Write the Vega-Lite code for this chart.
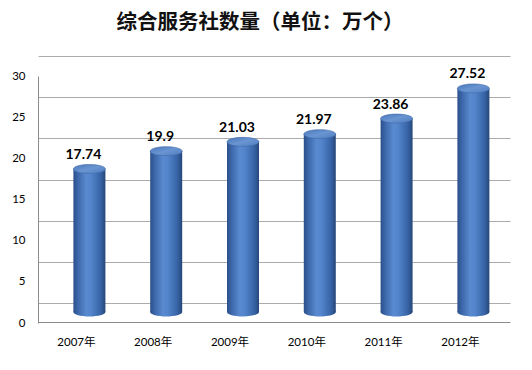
{
  "$schema": "https://vega.github.io/schema/vega-lite/v6.json",
  "width": 472,
  "height": 247,
  "autosize": {"type": "none"},
  "padding": {"left": 38, "top": 56, "right": 22, "bottom": 67},
  "background": "white",
  "config": {"view": {"stroke": null}},
  "title": {
    "text": "综合服务社数量（单位：万个）",
    "font": "Noto Sans CJK SC",
    "fontSize": 20.5,
    "fontWeight": "bold",
    "color": "#111111",
    "anchor": "middle",
    "frame": "group",
    "dx": -14,
    "offset": 23
  },
  "data": {
    "values": [
      {"year": "2007年", "value": 17.74},
      {"year": "2008年", "value": 19.9},
      {"year": "2009年", "value": 21.03},
      {"year": "2010年", "value": 21.97},
      {"year": "2011年", "value": 23.86},
      {"year": "2012年", "value": 27.52}
    ]
  },
  "encoding": {
    "x": {
      "field": "year",
      "type": "nominal",
      "sort": null,
      "scale": {"paddingInner": 0, "paddingOuter": 0.073, "align": 0},
      "axis": {
        "title": null,
        "offset": 19,
        "domainColor": "#8c8c8c",
        "ticks": false,
        "grid": false,
        "labelAngle": 0,
        "labelPadding": 14,
        "labelFont": "Lato, Noto Sans CJK SC",
        "labelFontSize": 11.5,
        "labelColor": "#000000"
      }
    }
  },
  "layer": [
    {
      "mark": {
        "type": "point",
        "shape": "M -1 0 A 1 0.28 0 1 0 1 0 A 1 0.28 0 1 0 -1 0 Z",
        "size": 1024,
        "filled": true,
        "opacity": 1,
        "xOffset": 13,
        "yOffset": 9,
        "fill": {"gradient": "linear", "x1": 0, "x2": 1, "y1": 0, "y2": 0,
          "stops": [
            {"offset": 0, "color": "#2b4f8a"},
            {"offset": 0.15, "color": "#3d68ab"},
            {"offset": 0.4, "color": "#5a8ad0"},
            {"offset": 0.55, "color": "#5385cc"},
            {"offset": 0.85, "color": "#3763a5"},
            {"offset": 1, "color": "#264779"}
          ]},
        "strokeWidth": 0
      },
      "encoding": {
        "y": {"datum": 0, "type": "quantitative", "scale": {"domain": [0, 30]},
          "axis": {"grid": true, "gridColor": "#ababab", "labels": false, "ticks": false, "domain": false, "title": null,
            "values": [0, 5, 10, 15, 20, 25, 30]}}
      }
    },
    {
      "mark": {
        "type": "bar",
        "width": 32,
        "xOffset": 13,
        "yOffset": 12,
        "y2Offset": 9,
        "fill": {"gradient": "linear", "x1": 0, "x2": 1, "y1": 0, "y2": 0,
          "stops": [
            {"offset": 0, "color": "#2b4f8a"},
            {"offset": 0.15, "color": "#3d68ab"},
            {"offset": 0.4, "color": "#5a8ad0"},
            {"offset": 0.55, "color": "#5385cc"},
            {"offset": 0.85, "color": "#3763a5"},
            {"offset": 1, "color": "#264779"}
          ]}
      },
      "encoding": {
        "y": {"field": "value", "type": "quantitative", "scale": {"domain": [0, 30]}, "axis": null},
        "y2": {"datum": 0}
      }
    },
    {
      "mark": {
        "type": "point",
        "shape": "M -1 0 A 1 0.28 0 1 0 1 0 A 1 0.28 0 1 0 -1 0 Z",
        "size": 1024,
        "filled": true,
        "opacity": 1,
        "xOffset": 13,
        "yOffset": 12,
        "fill": {"gradient": "linear", "x1": 0, "x2": 1, "y1": 0, "y2": 1,
          "stops": [
            {"offset": 0, "color": "#4a78bb"},
            {"offset": 0.5, "color": "#6a95d2"},
            {"offset": 1, "color": "#4e7cbe"}
          ]},
        "stroke": "#3f6aa8",
        "strokeWidth": 0.6
      },
      "encoding": {
        "y": {"field": "value", "type": "quantitative", "scale": {"domain": [0, 30]}, "axis": null}
      }
    },
    {
      "mark": {
        "type": "text",
        "font": "Lato",
        "fontSize": 14,
        "fontWeight": "bold",
        "color": "#000000",
        "align": "center",
        "baseline": "alphabetic",
        "xOffset": 7,
        "yOffset": 2
      },
      "encoding": {
        "y": {"field": "value", "type": "quantitative", "scale": {"domain": [0, 30]},
          "axis": {"orient": "left", "position": 20, "grid": false, "domain": true, "domainColor": "#8c8c8c",
            "ticks": false, "labelPadding": 13, "labelFont": "Lato", "labelFontSize": 11.5, "labelColor": "#000000",
            "title": null, "values": [0, 5, 10, 15, 20, 25, 30]}},
        "text": {"field": "value", "type": "nominal"}
      }
    }
  ],
  "resolve": {"axis": {"y": "independent"}}
}
